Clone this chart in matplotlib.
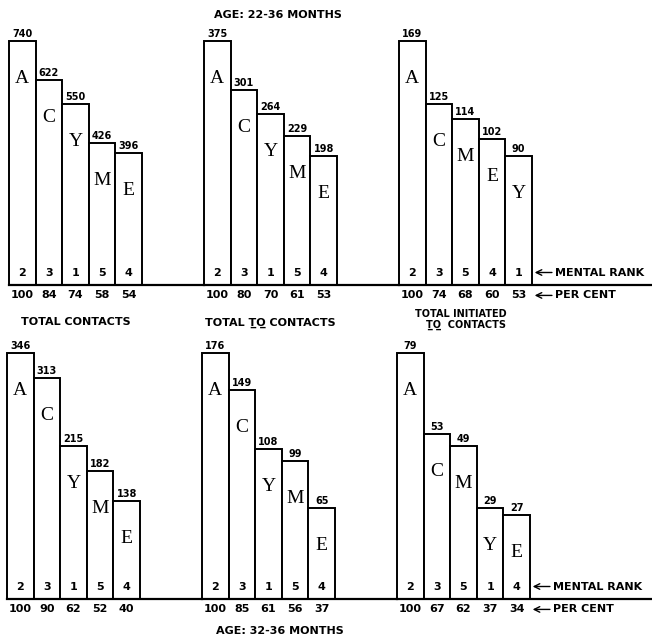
import matplotlib

matplotlib.use("Agg")

import matplotlib.pyplot as plt
from matplotlib.transforms import offset_copy


W, H = 652, 637
BAR_PX = 26.6

# top row: age 22-36 months
top_letters = [list("ACYME"), list("ACYME"), list("ACMEY")]
top_counts = [[740, 622, 550, 426, 396], [375, 301, 264, 229, 198], [169, 125, 114, 102, 90]]
top_ranks = [[2, 3, 1, 5, 4], [2, 3, 1, 5, 4], [2, 3, 5, 4, 1]]
top_pct = [[100, 84, 74, 58, 54], [100, 80, 70, 61, 53], [100, 74, 68, 60, 53]]

# bottom row: age 32-36 months
bot_letters = [list("ACYME"), list("ACYME"), list("ACMYE")]
bot_counts = [[346, 313, 215, 182, 138], [176, 149, 108, 99, 65], [79, 53, 49, 29, 27]]
bot_ranks = [[2, 3, 1, 5, 4], [2, 3, 1, 5, 4], [2, 3, 5, 1, 4]]
bot_pct = [[100, 90, 62, 52, 40], [100, 85, 61, 56, 37], [100, 67, 62, 37, 34]]

SANS = "DejaVu Sans"
SERIF = "Liberation Serif"
TXT = dict(family=SANS, fontweight="bold")


def px_axes(fig, left, right, top, base):
    ax = fig.add_axes([left / W, (H - base) / H, (right - left) / W, (base - top) / H])
    ax.set_xlim(-0.5, -0.5 + (right - left) / BAR_PX)
    ax.set_ylim(0, 100)
    for name, spine in ax.spines.items():
        spine.set_visible(name == "bottom")
    ax.spines["bottom"].set_linewidth(1.6)
    ax.set_xticks([])
    ax.set_yticks([])
    ax.patch.set_alpha(0)
    return ax


def draw_panel(ax, letters, counts, ranks, pct):
    xs = range(len(pct))
    ax.bar(xs, pct, width=1.0, color="white", edgecolor="black",
           linewidth=1.4, clip_on=False, zorder=2)
    for x, l, c, r, p in zip(xs, letters, counts, ranks, pct):
        ax.annotate(str(c), (x, p), xytext=(0, 1.5), textcoords="offset points",
                    ha="center", va="bottom", fontsize=7, **TXT)
        ax.annotate(l, (x, p), xytext=(0, -27), textcoords="offset points",
                    ha="center", va="center", fontsize=14, family=SERIF, zorder=3)
        ax.annotate(str(r), (x, 0), xytext=(0, 9), textcoords="offset points",
                    ha="center", va="center", fontsize=8, zorder=3, **TXT)
        ax.annotate(str(p), (x, 0), xytext=(0, -7.5), textcoords="offset points",
                    ha="center", va="center", fontsize=8, annotation_clip=False, **TXT)


def side_notes(fig, ax):
    for label, dy in [("MENTAL RANK", 9), ("PER CENT", -7.5)]:
        tr = offset_copy(ax.transData, fig=fig, y=dy, units="points")
        ax.annotate("", xy=(4.6, 0), xycoords=tr, xytext=(5.25, 0), textcoords=tr,
                    arrowprops=dict(arrowstyle="->", lw=1.0, color="black",
                                    shrinkA=0, shrinkB=0),
                    annotation_clip=False)
        ax.annotate(label, (5.35, 0), xycoords=tr, ha="left", va="center",
                    fontsize=8, annotation_clip=False, **TXT)


fig = plt.figure(figsize=(W / 100, H / 100), dpi=100)

rows = [
    (41, 285, [9, 204, 399], top_letters, top_counts, top_ranks, top_pct),
    (353, 599, [7, 202, 397], bot_letters, bot_counts, bot_ranks, bot_pct),
]
for top, base, lefts, letters, counts, ranks, pct in rows:
    rights = lefts[1:] + [W]
    for i in range(3):
        ax = px_axes(fig, lefts[i], rights[i], top, base)
        draw_panel(ax, letters[i], counts[i], ranks[i], pct[i])
        if i == 2:
            side_notes(fig, ax)

fig.text(278 / W, 1 - 15 / H, "AGE: 22-36 MONTHS", ha="center", va="center",
         fontsize=8, **TXT)
fig.text(280 / W, 1 - 631 / H, "AGE: 32-36 MONTHS", ha="center", va="center",
         fontsize=8, **TXT)
fig.text(76 / W, 1 - 322 / H, "TOTAL CONTACTS", ha="center", va="center",
         fontsize=8, **TXT)
fig.text(270 / W, 1 - 323 / H, "TOTAL T\u0332O\u0332 CONTACTS", ha="center", va="center",
         fontsize=8, **TXT)
fig.text(461 / W, 1 - 314 / H, "TOTAL INITIATED", ha="center", va="center",
         fontsize=7, **TXT)
fig.text(466 / W, 1 - 325 / H, "T\u0332O\u0332  CONTACTS", ha="center", va="center",
         fontsize=7, **TXT)

fig.savefig("out.png", dpi=100, facecolor="white")
